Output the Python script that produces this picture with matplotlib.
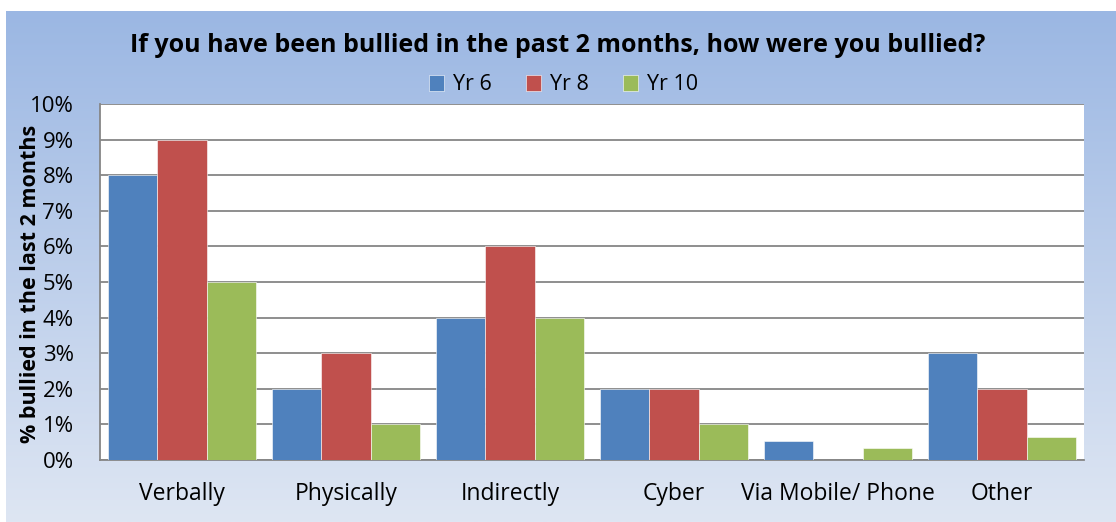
import numpy as np
import matplotlib.pyplot as plt
from matplotlib.ticker import FuncFormatter

categories = ['Verbally', 'Physically', 'Indirectly', 'Cyber', 'Via Mobile/ Phone', 'Other']
yr6 = [8, 2, 4, 2, 0.53, 3]
yr8 = [9, 3, 6, 2, 0, 2]
yr10 = [5, 1, 4, 1, 0.33, 0.65]
series = ['Yr 6', 'Yr 8', 'Yr 10']
colors = ['#4f81bd', '#c0504d', '#9bbb59']

plt.rcParams['font.family'] = ['Open Sans', 'DejaVu Sans']

W, H = 1116, 522
fig = plt.figure(figsize=(W / 100, H / 100), dpi=100)

# gradient background
bg = fig.add_axes([6 / W, 0, 1 - 6 / W, 1 - 11 / H])
top = np.array([155, 183, 227]) / 255
bot = np.array([222, 230, 243]) / 255
t = np.linspace(0, 1, 256)[:, None]
grad = top[None, :] * (1 - t) + bot[None, :] * t
bg.imshow(grad[:, None, :], aspect='auto', extent=[0, 1, 0, 1])
bg.set_axis_off()

ax = fig.add_axes([100 / W, 1 - 460 / H, (1084 - 100) / W, (460 - 104) / H])
ax.set_facecolor('white')
x = np.arange(len(categories))
w = 0.3
for i, (vals, name, c) in enumerate(zip([yr6, yr8, yr10], series, colors)):
    ax.bar(x + (i - 1) * w, vals, w, color=c, label=name, edgecolor='white', linewidth=0.4, zorder=3)

ax.set_xlim(-0.5, len(categories) - 0.5)
ax.set_ylim(0, 10)
ax.set_yticks(np.arange(0, 11, 1))
ax.yaxis.set_major_formatter(FuncFormatter(lambda v, p: f'{v:.0f}%'))
ax.set_xticks(x)
ax.set_xticklabels(categories, fontsize=16.5)
ax.tick_params(axis='y', labelsize=16, length=0, pad=19)
ax.tick_params(axis='x', length=0, pad=16)
ax.grid(axis='y', color='#868686', linewidth=1.3, zorder=0)
for s in ['top', 'right']:
    ax.spines[s].set_visible(False)
ax.spines['left'].set_color('#868686')
ax.spines['bottom'].set_color('#868686')
ax.spines['left'].set_linewidth(1.3)
ax.spines['bottom'].set_linewidth(1.3)
ax.set_ylabel('% bullied in the last 2 months', fontsize=15.5, fontweight='bold')
ax.yaxis.set_label_coords(-0.06, 0.494)

fig.text(0.5, 1 - 45 / H, 'If you have been bullied in the past 2 months, how were you bullied?',
         ha='center', va='center', fontsize=18, fontweight='bold')
fig.legend(loc='center', bbox_to_anchor=(0.505, 1 - 85 / H), ncol=3, frameon=False,
           fontsize=15.5, handlelength=0.7, handleheight=0.7, columnspacing=1.6, handletextpad=0.4)

fig.savefig('out.png', dpi=100)
